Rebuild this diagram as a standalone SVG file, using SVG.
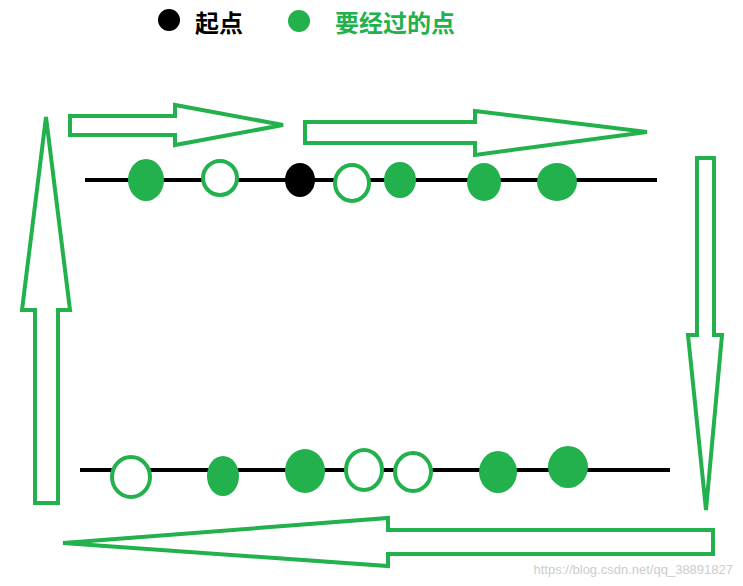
<svg xmlns="http://www.w3.org/2000/svg" width="743" height="586" viewBox="0 0 743 586">
<style>
.arr{fill:#fff;stroke:#22b14c;stroke-width:4;stroke-linejoin:miter}
.g{fill:#22b14c}
.h{fill:#fff;stroke:#22b14c;stroke-width:4}
.k{fill:#000}
.ln{stroke:#000;stroke-width:4}
text{font-family:"Noto Sans CJK SC","Noto Sans",sans-serif;font-weight:bold;font-size:24px}
</style>
<rect width="743" height="586" fill="#fff"/>
<g id="legend">
<circle cx="169" cy="20" r="11" class="k"/>
<text x="195" y="32" fill="#000">起点</text>
<circle cx="299" cy="21" r="11" class="g"/>
<text x="335" y="32" fill="#22b14c">要经过的点</text>
</g>
<g id="arrows">
<polygon class="arr" points="70,116 175,116 175,105 283,125 175,145 175,135 70,135"/>
<polygon class="arr" points="305,122 475,122 475,111 647,132 475,155 475,143 305,143"/>
<polygon class="arr" points="697,158 714,158 714,335 722,335 706,510 688,335 697,335"/>
<polygon class="arr" points="713,530 713,554 388,554 388,566 63,543 388,518 388,530"/>
<polygon class="arr" points="35,503 58,503 58,310 70,310 46,117 22,310 35,310"/>
</g>
<g id="top">
<line x1="85" y1="180" x2="657" y2="180" class="ln"/>
<ellipse cx="146" cy="180" rx="18" ry="21" class="g"/>
<ellipse cx="220" cy="178" rx="17" ry="17" class="h"/>
<ellipse cx="300" cy="180" rx="15" ry="17" class="k"/>
<ellipse cx="352" cy="183" rx="17" ry="18" class="h"/>
<ellipse cx="400" cy="180" rx="16" ry="18" class="g"/>
<ellipse cx="484" cy="182" rx="17" ry="19" class="g"/>
<ellipse cx="557" cy="182" rx="20" ry="19" class="g"/>
</g>
<g id="bottom">
<line x1="80" y1="470" x2="670" y2="470" class="ln"/>
<ellipse cx="131" cy="477" rx="19" ry="20" class="h"/>
<ellipse cx="223" cy="476" rx="16" ry="20" class="g"/>
<ellipse cx="305" cy="471" rx="20" ry="22" class="g"/>
<ellipse cx="364" cy="470" rx="18" ry="20" class="h"/>
<ellipse cx="413" cy="472" rx="18" ry="19" class="h"/>
<ellipse cx="498" cy="472" rx="19" ry="21" class="g"/>
<ellipse cx="568" cy="467" rx="20" ry="21" class="g"/>
</g>
<text x="733" y="574" text-anchor="end" style="font-family:'Liberation Sans',sans-serif;font-weight:normal;font-size:13px" fill="#ccc">https://blog.csdn.net/qq_38891827</text>
</svg>
